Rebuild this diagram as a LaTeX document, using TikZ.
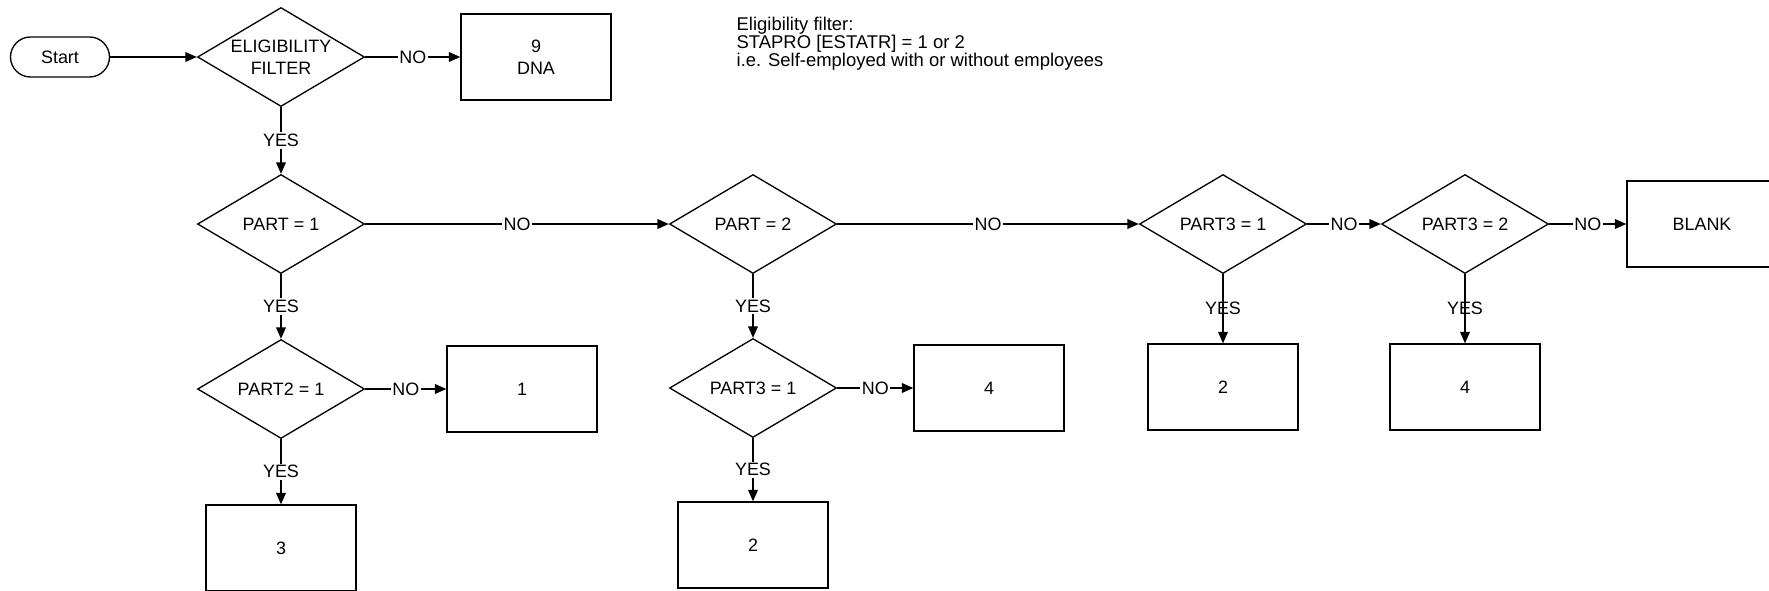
\documentclass[tikz,border=0pt]{standalone}
\usepackage{fontspec}
\setmainfont{Liberation Sans}
\usetikzlibrary{shapes.geometric, arrows.meta}

\begin{document}
\begin{tikzpicture}[
  line width=0.75pt,
  every node/.style={font=\fontsize{10.2pt}{12.4pt}\selectfont},
  dec/.style={draw, diamond, aspect=1.68, minimum width=3.34cm, minimum height=1.98cm, inner sep=0pt, align=center},
  outbox/.style={draw, rectangle, minimum width=3cm, minimum height=1.72cm, align=center},
  lnk/.style={-{Triangle[length=6.5pt,width=5.5pt]}},
  lbl/.style={fill=white, inner sep=1pt},
  lblo/.style={inner sep=1pt}
]
\useasboundingbox (0,0) rectangle (35.38,-11.8);

\node[draw, rounded corners=0.4cm, minimum width=1.98cm, minimum height=0.8cm] (start) at (1.2,-1.14) {Start};
\node[dec] (elig) at (5.62,-1.14) {ELIGIBILITY\\FILTER};
\node[outbox] (dna) at (10.72,-1.14) {9\\DNA};
\node[anchor=west, align=left, inner sep=0pt, font=\fontsize{10.5pt}{10.3pt}\selectfont] (note) at (14.72,-0.88) {Eligibility filter:\\STAPRO [ESTATR] = 1 or 2\\i.e. Self-employed with or without employees};

\node[dec] (part1) at (5.62,-4.48) {PART = 1};
\node[dec] (part2) at (15.06,-4.48) {PART = 2};
\node[dec] (partA) at (24.46,-4.48) {PART3 = 1};
\node[dec] (partB) at (29.3,-4.48) {PART3 = 2};
\node[outbox] (blank) at (34.04,-4.48) {BLANK};

\node[dec] (partC) at (5.62,-7.78) {PART2 = 1};
\node[outbox] (res1) at (10.44,-7.78) {1};
\node[outbox] (res3) at (5.62,-10.96) {3};

\node[dec] (partD) at (15.06,-7.76) {PART3 = 1};
\node[outbox] (res4a) at (19.78,-7.76) {4};
\node[outbox] (res2a) at (15.06,-10.9) {2};

\node[outbox] (res2b) at (24.46,-7.74) {2};
\node[outbox] (res4b) at (29.3,-7.74) {4};

\draw[lnk] (start.east) -- (elig.west);
\draw[lnk] (elig.east) -- node[lbl]{NO} (dna.west);
\draw[lnk] (elig.south) -- node[lbl]{YES} (part1.north);
\draw[lnk] (part1.east) -- node[lbl]{NO} (part2.west);
\draw[lnk] (part2.east) -- node[lbl]{NO} (partA.west);
\draw[lnk] (partA.east) -- node[lbl]{NO} (partB.west);
\draw[lnk] (partB.east) -- node[lbl]{NO} (blank.west);
\draw[lnk] (part1.south) -- node[lbl]{YES} (partC.north);
\draw[lnk] (partC.east) -- node[lbl]{NO} (res1.west);
\draw[lnk] (partC.south) -- node[lbl]{YES} (res3.north);
\draw[lnk] (part2.south) -- node[lbl]{YES} (partD.north);
\draw[lnk] (partD.east) -- node[lbl]{NO} (res4a.west);
\draw[lnk] (partD.south) -- node[lbl]{YES} (res2a.north);
\draw[lnk] (partA.south) -- node[lblo]{YES} (res2b.north);
\draw[lnk] (partB.south) -- node[lblo]{YES} (res4b.north);
\end{tikzpicture}
\end{document}
